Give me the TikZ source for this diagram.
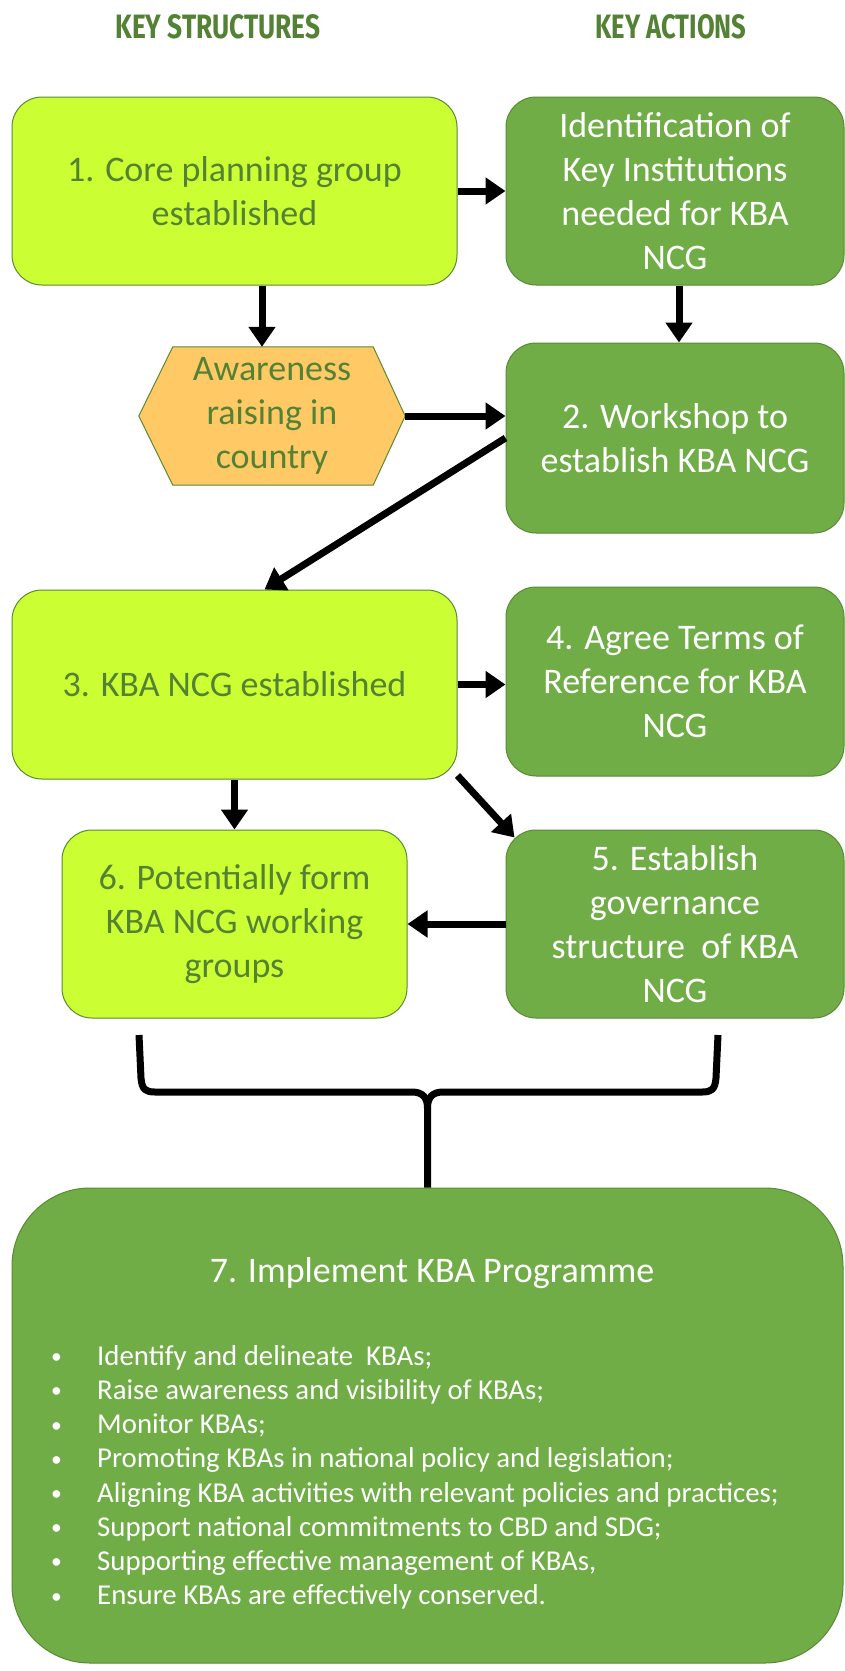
\documentclass[tikz,border=0pt]{standalone}
\usepackage{fontspec}
\usepackage{graphicx}
\setmainfont{Carlito}
\newfontfamily\headfont{Fira Sans}
\usetikzlibrary{arrows.meta,calc}
\pgfdeclarelayer{background}
\pgfsetlayers{background,main}
\definecolor{lgreen}{HTML}{CCFF33}
\definecolor{dgreen}{HTML}{70AD47}
\definecolor{tgreen}{HTML}{548235}
\definecolor{bgreen}{HTML}{5A8A32}
\definecolor{hexfill}{HTML}{FFC966}
\newcommand\bitem{\makebox[48pt][l]{\hspace{2pt}\raisebox{1.5pt}{\scalebox{0.75}{\textbullet}}}}
\begin{document}
\begin{tikzpicture}[x=1pt,y=-1pt,
  boxbase/.style={draw=bgreen, line width=1pt, rounded corners=30pt, align=center,
    font=\fontsize{36}{44}\selectfont, inner sep=0pt},
  lbox/.style={boxbase, fill=lgreen, text=tgreen},
  dbox/.style={boxbase, fill=dgreen, text=white},
  head/.style={text=tgreen, inner sep=0pt},
  arr/.style={line width=7pt, -{Triangle[length=20pt,width=26pt]}},
  bracepath/.style={line width=7pt, line join=round, line cap=butt}
  ]
\useasboundingbox (0,0) rectangle (845,1671);

% headers
\node[head] (hs) at (218,27) {\resizebox{205pt}{24pt}{\headfont\bfseries KEY STRUCTURES}};
\node[head] (ha) at (671,27) {\resizebox{151pt}{24pt}{\headfont\bfseries KEY ACTIONS}};

% boxes
\node[lbox, minimum width=445pt, minimum height=188pt] (b1) at (234.5,191) {1. Core planning group\\established};
\node[dbox, minimum width=338pt, minimum height=188pt] (ba) at (675,191) {Identification of\\Key Institutions\\needed for KBA\\NCG};
\node[text=tgreen, align=center, font=\fontsize{36}{44}\selectfont, inner sep=0pt,
      minimum width=266pt, minimum height=138pt] (hex) at (272,416) {Awareness\\raising in\\country};
\node[dbox, minimum width=338pt, minimum height=190pt] (b2) at (675,438) {2. Workshop to\\establish KBA NCG};
\node[lbox, minimum width=445pt, minimum height=189pt] (b3) at (234.5,684.5) {3. KBA NCG established};
\node[dbox, minimum width=338pt, minimum height=189pt] (b4) at (675,681.5) {4. Agree Terms of\\Reference for KBA\\NCG};
\node[lbox, minimum width=345pt, minimum height=188pt] (b6) at (234.5,924) {6. Potentially form\\KBA NCG working\\groups};
\node[dbox, minimum width=338pt, minimum height=188pt] (b5) at (675,924) {5. Establish\\governance\\structure\ \ of KBA\\NCG};
\node[draw=bgreen, line width=1pt, fill=dgreen, rounded corners=78pt,
      minimum width=831pt, minimum height=475pt, inner sep=0pt] (b7) at (427.5,1425.5) {};
\node[text=white, font=\fontsize{36}{44}\selectfont, inner sep=0pt] (t7) at (432,1273) {7. Implement KBA Programme};
\node[anchor=north west, text=white, align=left, font=\fontsize{28.8}{34.2}\selectfont, inner sep=0pt] (list) at (49,1345)
 {\bitem Identify and delineate\ \ KBAs;\\
  \bitem Raise awareness and visibility of KBAs;\\
  \bitem Monitor KBAs;\\
  \bitem Promoting KBAs in national policy and legislation;\\
  \bitem Aligning KBA activities\ with relevant policies\ and practices;\\
  \bitem Support national commitments to CBD and SDG;\\
  \bitem Supporting effective management of KBAs,\\
  \bitem Ensure KBAs are effectively conserved.};

% background: page and hexagon outline behind its text
\begin{pgfonlayer}{background}
\fill[white] (0,0) rectangle (845,1671);
\draw[bgreen, line width=1pt, fill=hexfill] (hex.west) -- ([xshift=34pt]hex.north west) -- ([xshift=-32pt]hex.north east) -- (hex.east)
  -- ([xshift=-32pt]hex.south east) -- ([xshift=34pt]hex.south west) -- cycle;
\end{pgfonlayer}

% arrows
\draw[arr] (b1.east) -- (ba.west);
\draw[arr] ([xshift=-10pt]hex.north |- b1.south) -- ([xshift=-10pt]hex.north);
\draw[arr] ([xshift=4pt]ba.south) -- ([xshift=4pt]b2.north);
\draw[arr] (hex.east) -- (hex.east -| b2.west);
\draw[arr] (b2.west) -- ([xshift=30pt]b3.north);
\draw[arr] (b3.east) -- (b3.east -| b4.west);
\draw[arr] (b3.south) -- (b6.north);
\draw[arr] ([yshift=4pt]b3.south east) -- ([xshift=9pt,yshift=-8pt]b5.north west);
\draw[arr] (b5.west) -- (b6.east);

% brace
\coordinate (bl) at (139,1035);
\coordinate (br) at (718,1035);
\coordinate (bm) at (427.5,1108);
\draw[bracepath] (bl) -- (141,1078) .. controls (142,1090) and (146,1092) .. (155,1092)
  -- (412,1092) .. controls (423,1092) and (427.5,1098) .. (bm) -- (b7.north);
\draw[bracepath] (br) -- (716,1078) .. controls (715,1090) and (711,1092) .. (702,1092)
  -- (443,1092) .. controls (432,1092) and (427.5,1098) .. (bm);
\end{tikzpicture}
\end{document}
